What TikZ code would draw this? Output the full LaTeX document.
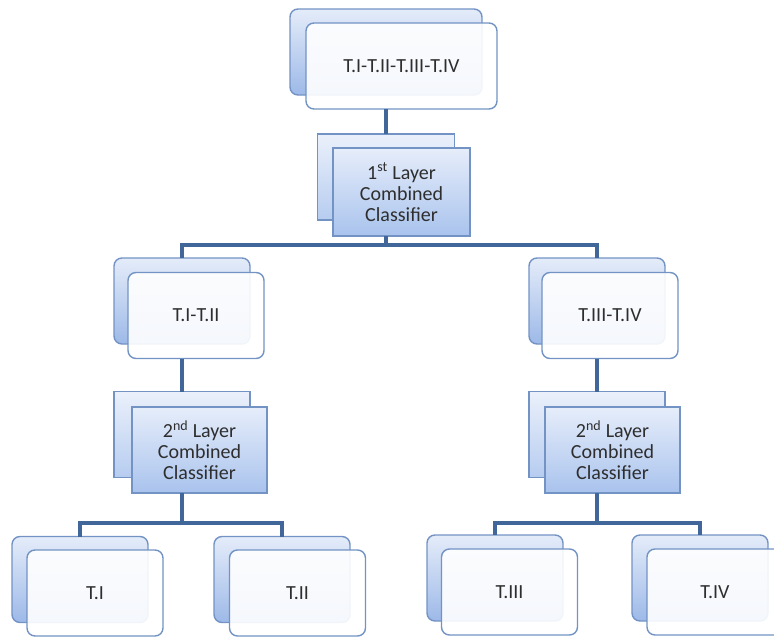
\documentclass[tikz,border=0pt]{standalone}
\usepackage{fontspec}
\setmainfont{Carlito}
\definecolor{edgeblue}{HTML}{7393C4}
\definecolor{linkblue}{HTML}{41679A}
\definecolor{backtop}{HTML}{E4ECF9}
\definecolor{backbot}{HTML}{9DB9E8}
\definecolor{clstop}{HTML}{E6EDFA}
\definecolor{clsbot}{HTML}{A9C3ED}
\definecolor{txt}{HTML}{2E2E2E}
\tikzset{
  base/.style={draw=edgeblue, line width=1.4pt, inner sep=0pt, outer sep=0pt,
    minimum width=136pt, minimum height=86pt},
  backround/.style={base, rounded corners=8pt, top color=backtop, bottom color=backbot},
  frontround/.style={base, rounded corners=8pt, fill=white, fill opacity=0.9,
    text opacity=1, text=txt, font=\fontsize{20}{21}\selectfont},
  backcls/.style={base, top color=clstop!80!white, bottom color=clsbot!85!white},
  frontcls/.style={base, top color=clstop, bottom color=clsbot, text=txt,
    align=center, font=\fontsize{20}{21}\selectfont},
  link/.style={draw=linkblue, line width=4pt}
}
\begin{document}
\begin{tikzpicture}[x=1pt,y=-1pt]
\useasboundingbox (0,0) rectangle (774,637);
% junction coordinates
\coordinate (j1) at (386,245);
\coordinate (j2) at (182,523);
\coordinate (j3) at (597,523);
% back boxes
\node[backround, minimum width=192pt] (topb) at (386,52) {};
\node[backcls, minimum width=137pt] (c1b) at (386,177) {};
\node[backround] (t12b) at (182,301) {};
\node[backround] (t34b) at (597,301) {};
\node[backcls] (c2lb) at (182,434.5) {};
\node[backcls] (c2rb) at (597,434.5) {};
\node[backround] (t1b) at (80,579.5) {};
\node[backround] (t2b) at (282,579.5) {};
\node[backround] (t3b) at (495,578) {};
\node[backround] (t4b) at (700,578) {};
% front boxes
\node[frontround, minimum width=191pt] (top) at (401.5,66) {T.I-T.II-T.III-T.IV};
\node[frontcls, minimum width=137pt, minimum height=88pt] (c1) at (401.5,192) {1\textsuperscript{st} Layer\\Combined\\Classifier};
\node[frontround] (t12) at (196,315.5) {T.I-T.II};
\node[frontround] (t34) at (610,315.5) {T.III-T.IV};
\node[frontcls, minimum width=135pt] (c2l) at (199.5,450) {2\textsuperscript{nd} Layer\\Combined\\Classifier};
\node[frontcls, minimum width=135pt] (c2r) at (612.5,450) {2\textsuperscript{nd} Layer\\Combined\\Classifier};
\node[frontround] (t1) at (95,593) {T.I};
\node[frontround] (t2) at (297.5,593) {T.II};
\node[frontround] (t3) at (509.5,592) {T.III};
\node[frontround] (t4) at (715,592) {T.IV};
% connectors between the visible box edges
\draw[link] (top.south -| topb) -- (c1b.north);
\draw[link] (c1.south -| c1b) -- (j1);
\draw[link] (j1) -| (t12b.north);
\draw[link] (j1) -| (t34b.north);
\draw[link] (t12.south -| t12b) -- (c2lb.north);
\draw[link] (t34.south -| t34b) -- (c2rb.north);
\draw[link] (c2l.south -| c2lb) -- (j2);
\draw[link] (j2) -| (t1b.north);
\draw[link] (j2) -| (t2b.north);
\draw[link] (c2r.south -| c2rb) -- (j3);
\draw[link] (j3) -| (t3b.north);
\draw[link] (j3) -| (t4b.north);
\end{tikzpicture}
\end{document}
